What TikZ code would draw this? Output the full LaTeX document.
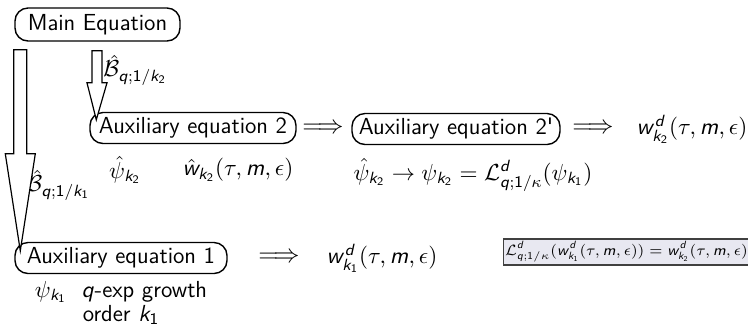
\RequirePackage{fix-cm}
\documentclass[tikz,border=0pt]{standalone}
\usepackage{amsmath,amssymb}
\usepackage{tikz}
\usetikzlibrary{calc,positioning}
% sans letters and digits in math, greek stays roman
\DeclareSymbolFont{sfletters}{OT1}{cmss}{m}{sl}
\DeclareSymbolFont{sfdigits}{OT1}{cmss}{m}{n}
\DeclareMathSymbol{d}{\mathalpha}{sfletters}{`d}
\DeclareMathSymbol{k}{\mathalpha}{sfletters}{`k}
\DeclareMathSymbol{m}{\mathalpha}{sfletters}{`m}
\DeclareMathSymbol{q}{\mathalpha}{sfletters}{`q}
\DeclareMathSymbol{w}{\mathalpha}{sfletters}{`w}
\DeclareMathSymbol{1}{\mathalpha}{sfdigits}{`1}
\DeclareMathSymbol{2}{\mathalpha}{sfdigits}{`2}
\definecolor{notefill}{RGB}{232,232,241}
\newcommand{\fatarrow}[5]{%
  \draw[fatarrow] let \p1=(#1), \p2=(#2) in
    (\x1-#3,\y1) -- (\x1-#3,\y2+#5) -- (\x1-#4,\y2+#5) -- (\x2,\y2)
    -- (\x1+#4,\y2+#5) -- (\x1+#3,\y2+#5) -- (\x1+#3,\y1) -- cycle;}

\begin{document}
\begin{tikzpicture}[x=0.5pt, y=-0.5pt,
    font=\sffamily\fontsize{11.6}{10}\selectfont,
    eqbox/.style={draw, line width=0.7pt, rounded corners=6.5pt, minimum height=15.5pt, inner sep=1pt},
    implies/.style={font=\fontsize{13}{13}\selectfont},
    fatarrow/.style={draw, fill=white, line width=0.6pt, line join=miter},
    notebox/.style={draw=black!75, fill=notefill, line width=0.6pt, minimum width=115.5pt,
      minimum height=13pt, inner sep=1pt, font=\fontsize{7.5}{9}\selectfont}]
  \useasboundingbox (0,0) rectangle (748,329);

  \node[eqbox, minimum width=82.5pt, minimum height=16.5pt] (main) at (97.5,24.5) {Main Equation};
  \node[eqbox, minimum width=103pt] (aux2) at (193,128) {Auxiliary equation 2};
  \node[implies] (imp1) at (323,129) {$\Longrightarrow$};
  \node[eqbox, minimum width=104pt] (aux2p) at (456,129) {Auxiliary equation 2\textquotesingle};
  \node[implies] (imp2) at (593,129) {$\Longrightarrow$};
  \node (wk2) at (692,129) {$w^d_{k_2}(\tau,m,\epsilon)$};
  \node[eqbox, minimum width=106pt] (aux1) at (121,258) {Auxiliary equation 1};
  \node[implies] (imp3) at (279,258) {$\Longrightarrow$};
  \node (wk1) at (382,258) {$w^d_{k_1}(\tau,m,\epsilon)$};
  \node[notebox] (note) at (626.5,252) {$\mathcal{L}^d_{q;1/\kappa}(w^d_{k_1}(\tau,m,\epsilon)) = w^d_{k_2}(\tau,m,\epsilon)$};

  % labels
  \node (bk2) at (135,70) {$\hat{\mathcal{B}}_{q;1/k_2}$};
  \node (bk1) at (58,185) {$\hat{\mathcal{B}}_{q;1/k_1}$};
  \node (psi2) at (125,170) {$\hat{\psi}_{k_2}$};
  \node (w2) at (238,170) {$\hat{w}_{k_2}(\tau,m,\epsilon)$};
  \node (psimap) at (473,175) {$\hat{\psi}_{k_2} \to \psi_{k_2} = \mathcal{L}^d_{q;1/\kappa}(\psi_{k_1})$};
  \node[align=center, below=0pt of aux1] (growth) {$\psi_{k_1}$\ \ $q$-exp growth\\order $k_1$};

  % Borel arrows
  \coordinate (s1) at ($(main.south west)+(6,8)$);
  \coordinate (t1) at ($(aux1.north west)+(6,9)$);
  \coordinate (s2) at ($(main.south)+(-0.5,9)$);
  \coordinate (t2) at ($(aux2.north west)+(7,8)$);
  \fatarrow{s1}{t1}{3.25pt}{7.5pt}{48.5pt}
  \fatarrow{s2}{t2}{2.5pt}{5pt}{18.5pt}
\end{tikzpicture}
\end{document}
